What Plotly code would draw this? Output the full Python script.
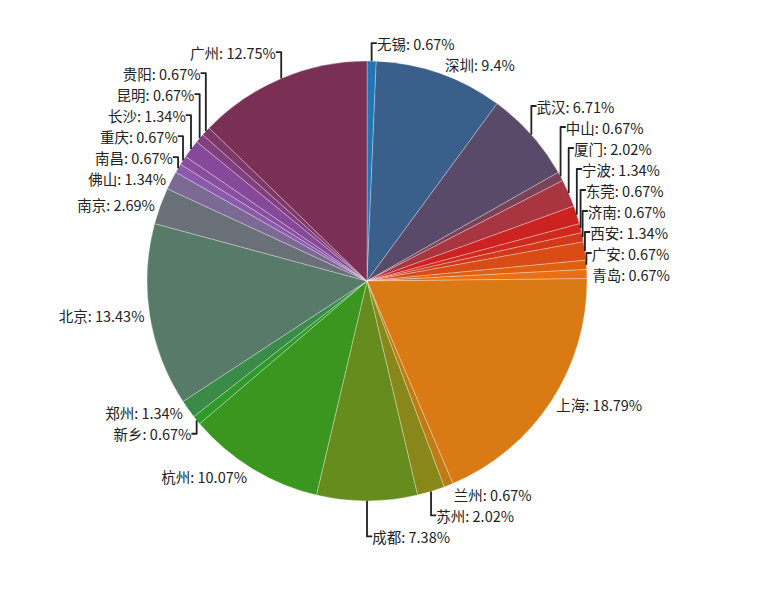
import plotly.graph_objects as go

cities = ["无锡", "深圳", "武汉", "中山", "厦门", "宁波", "东莞", "济南", "西安", "广安",
          "青岛", "上海", "兰州", "苏州", "成都", "杭州", "新乡", "郑州", "北京", "南京",
          "佛山", "南昌", "重庆", "长沙", "昆明", "贵阳", "广州"]
shares = [0.67, 9.4, 6.71, 0.67, 2.02, 1.34, 0.67, 0.67, 1.34, 0.67,
          0.67, 18.79, 0.67, 2.02, 7.38, 10.07, 0.67, 1.34, 13.43, 2.69,
          1.34, 0.67, 0.67, 1.34, 0.67, 0.67, 12.75]
colors = ["#1f77b4", "#3a5f8a", "#594a6a", "#7a4258", "#a8353f", "#cc2222", "#d02a1e",
          "#d4381a", "#da4c16", "#e06012", "#e87015", "#d97a14", "#c07c14", "#88881a",
          "#668c1e", "#3a961e", "#2e9a2a", "#3a8a48", "#587a68", "#6a7078", "#7a6a94",
          "#8c5aac", "#8a4ea0", "#86489a", "#823f80", "#7e3868", "#7a3055"]

fig = go.Figure(go.Pie(
    labels=cities,
    values=shares,
    sort=False,
    direction="clockwise",
    rotation=0,
    marker=dict(colors=colors, line=dict(color="rgba(255,255,255,0.5)", width=0.6)),
    texttemplate="%{label}: %{value}%",
    textposition="outside",
    textfont=dict(family="Noto Sans CJK SC", size=14.5, color="#222"),
    showlegend=False,
    hoverinfo="label+value",
    domain=dict(x=[139 / 765, 579 / 765], y=[(593 - 493) / 593, (593 - 53) / 593]),
))

fig.update_layout(
    width=765, height=593,
    margin=dict(l=0, r=0, t=0, b=0),
    paper_bgcolor="white",
    font=dict(family="Noto Sans CJK SC"),
)

fig.write_html("out.html")
